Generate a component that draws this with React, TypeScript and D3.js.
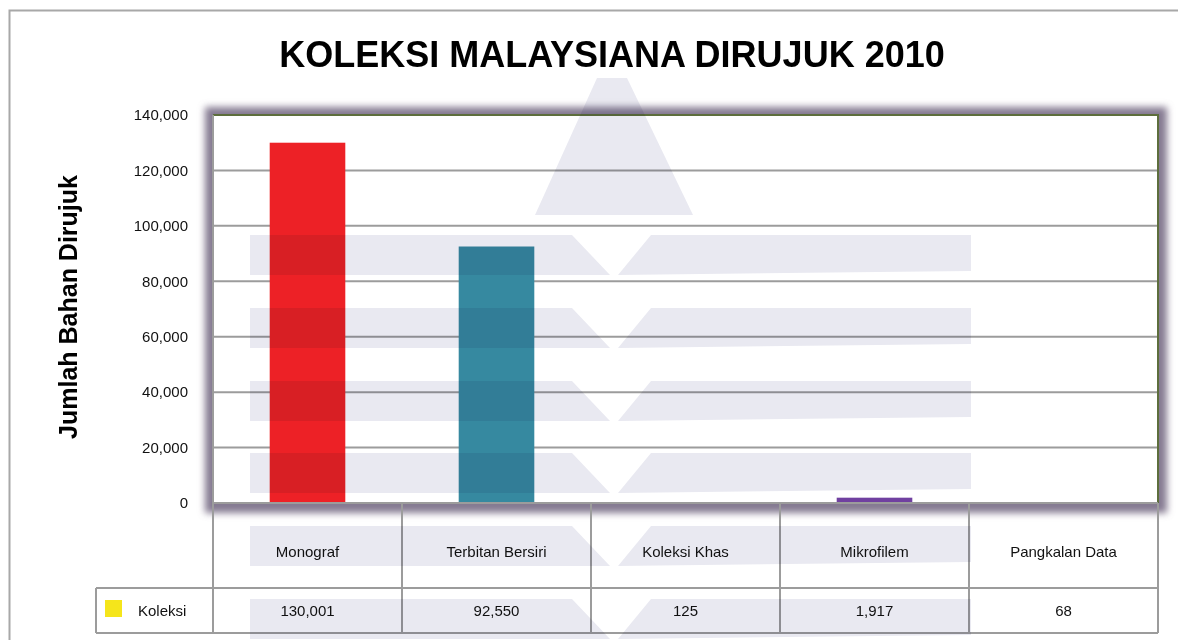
import * as d3 from "d3";

// chart data
const categories = ["Monograf", "Terbitan Bersiri", "Koleksi Khas", "Mikrofilem", "Pangkalan Data"];
const koleksi = [130001, 92550, 125, 1917, 68];
const barColors = ["#ED2126", "#3689A0", "#E8D71E", "#7040A0", "#6AA84F"];
const yTicks = [0, 20000, 40000, 60000, 80000, 100000, 120000, 140000];
const seriesName = "Koleksi";
const legendColor = "#F5E51B";

const W = 1178;
const H = 640;
const plot = { left: 213, right: 1158, top: 115, bottom: 503 };
const tableRows = [503, 588, 633];
const font = "'Liberation Sans', Arial, sans-serif";
const lineGray = "#9c9c9c";

// faint watermark bands (decoration only)
const bandTops = [235, 308, 381, 453, 526, 599];

const App: React.FC = () => {
  const x = d3
    .scaleBand<string>()
    .domain(categories)
    .range([plot.left, plot.right])
    .padding(0);
  const y = d3
    .scaleLinear()
    .domain([0, 140000])
    .range([plot.bottom, plot.top]);
  const fmt = d3.format(",");
  const barW = x.bandwidth() * 0.4;

  return (
    <div style={{ position: "absolute", left: 0, top: 0 }}>
      <svg width={W} height={H} style={{ display: "block", background: "#fff" }}>
        <defs>
          <filter id="shadow" x="-10%" y="-10%" width="120%" height="120%">
            <feGaussianBlur stdDeviation="3.5" />
          </filter>
        </defs>

        {/* outer chart border */}
        <path d={`M9.5,${H} V10.5 H${W}`} fill="none" stroke="#a8a8a8" strokeWidth={2} />

        {/* title */}
        <text
          x={612}
          y={67}
          textAnchor="middle"
          fontFamily={font}
          fontWeight="bold"
          fontSize={36}
          fill="#000"
        >
          KOLEKSI MALAYSIANA DIRUJUK 2010
        </text>

        {/* y axis title */}
        <text
          transform={`translate(77,307) rotate(-90)`}
          textAnchor="middle"
          fontFamily={font}
          fontWeight="bold"
          fontSize={25}
          fill="#000"
        >
          Jumlah Bahan Dirujuk
        </text>

        {/* plot area shadow */}
        <rect
          x={plot.left - 8}
          y={plot.top - 8}
          width={plot.right - plot.left + 17}
          height={plot.bottom - plot.top + 18}
          fill="#857a92"
          filter="url(#shadow)"
        />
        <rect
          x={plot.left}
          y={plot.top}
          width={plot.right - plot.left}
          height={plot.bottom - plot.top}
          fill="#fff"
        />

        {/* gridlines */}
        {yTicks.map((t) => (
          <line
            key={t}
            x1={plot.left}
            x2={plot.right}
            y1={y(t)}
            y2={y(t)}
            stroke={lineGray}
            strokeWidth={2}
          />
        ))}

        {/* y tick labels */}
        {yTicks.map((t) => (
          <text
            key={t}
            x={188}
            y={y(t)}
            dy="0.35em"
            textAnchor="end"
            fontFamily={font}
            fontSize={15}
            fill="#111"
          >
            {fmt(t)}
          </text>
        ))}

        {/* bars */}
        {categories.map((c, i) => (
          <rect
            key={c}
            x={(x(c) ?? 0) + (x.bandwidth() - barW) / 2}
            y={y(koleksi[i])}
            width={barW}
            height={plot.bottom - y(koleksi[i])}
            fill={barColors[i]}
          />
        ))}

        {/* plot frame */}
        <path
          d={`M${plot.left},${plot.top} H${plot.right} V${plot.bottom}`}
          fill="none"
          stroke="#5d6e3c"
          strokeWidth={2}
        />
        <line x1={plot.left} x2={plot.left} y1={plot.top} y2={plot.bottom} stroke={lineGray} strokeWidth={2} />

        {/* data table */}
        <g stroke={lineGray} strokeWidth={2}>
          {tableRows.map((r) => (
            <line key={r} x1={plot.left} x2={plot.right} y1={r} y2={r} />
          ))}
          {[...categories.map((c) => x(c) ?? 0), plot.right].map((vx, i) => (
            <line key={i} x1={vx} x2={vx} y1={tableRows[0]} y2={tableRows[2]} />
          ))}
          <line x1={96} x2={plot.left} y1={tableRows[1]} y2={tableRows[1]} />
          <line x1={96} x2={plot.left} y1={tableRows[2]} y2={tableRows[2]} />
          <line x1={96} x2={96} y1={tableRows[1]} y2={tableRows[2]} />
        </g>
        {categories.map((c, i) => (
          <g key={c} fontFamily={font} fontSize={15} fill="#111" textAnchor="middle">
            <text x={(x(c) ?? 0) + x.bandwidth() / 2} y={(tableRows[0] + tableRows[1]) / 2 + 6} dy="0.35em">
              {c}
            </text>
            <text x={(x(c) ?? 0) + x.bandwidth() / 2} y={(tableRows[1] + tableRows[2]) / 2} dy="0.35em">
              {fmt(koleksi[i])}
            </text>
          </g>
        ))}
        <rect x={105} y={600} width={17} height={17} fill={legendColor} />
        <text x={138} y={(tableRows[1] + tableRows[2]) / 2} dy="0.35em" fontFamily={font} fontSize={15} fill="#111">
          {seriesName}
        </text>

        {/* watermark */}
        <g fill="#e9e9f1" style={{ mixBlendMode: "multiply" }}>
          <polygon points="597,78 627,78 693,215 535,215" />
          {bandTops.map((t) => (
            <g key={t}>
              <polygon points={`250,${t} 572,${t} 610,${t + 40} 250,${t + 40}`} />
              <polygon points={`651,${t} 971,${t} 971,${t + 36} 618,${t + 40}`} />
            </g>
          ))}
        </g>
      </svg>
    </div>
  );
};

export default App;
